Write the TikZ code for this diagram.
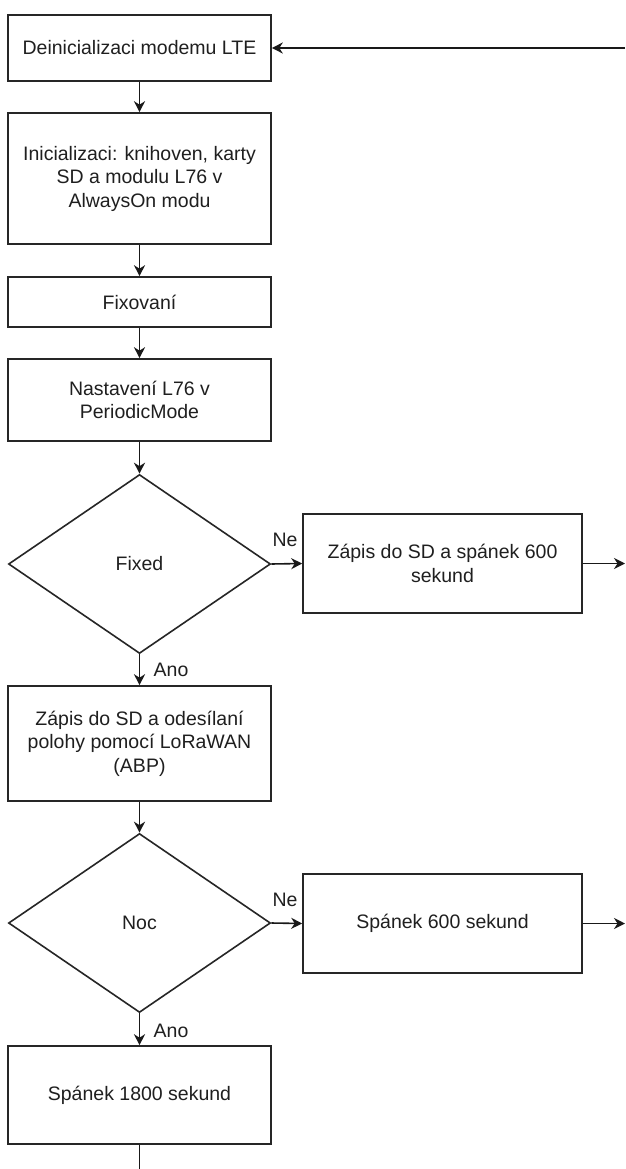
\documentclass[tikz,border=0pt]{standalone}
\usepackage{fontspec}
\setmainfont{Liberation Sans}
\usetikzlibrary{arrows.meta,shapes.geometric}

\newcommand{\flowfont}{\fontsize{19.5}{23.5}\selectfont}

\tikzset{
  stepbox/.style={draw=black!85, line width=1.6pt, rectangle, inner sep=0pt,
    minimum width=263pt, align=center, font=\flowfont, text=black!88},
  sidebox/.style={stepbox, minimum width=279pt, minimum height=99pt},
  decision/.style={draw=black!85, line width=1.6pt, diamond, inner sep=0pt,
    minimum width=262pt, minimum height=179pt, font=\flowfont, text=black!88},
  flow/.style={draw=black!90, line width=1.6pt, -{Stealth[length=11pt, width=11pt, inset=3.5pt]}},
  plain/.style={draw=black!90, line width=1.6pt},
  lbl/.style={font=\flowfont, text=black!88, inner sep=0pt}
}

\begin{document}
\begin{tikzpicture}[x=1pt, y=-1pt]
  % page frame
  \useasboundingbox[fill=white] (0,0) rectangle (625,1169);

  % main column
  \node[stepbox, minimum height=66pt]  (deinit) at (139.5,48)    {Deinicializaci modemu LTE};
  \node[stepbox, minimum height=131pt] (init)   at (139.5,178.5) {Inicializaci: knihoven, karty\\SD a modulu L76 v\\AlwaysOn modu};
  \node[stepbox, minimum height=50pt]  (fix)    at (139.5,302)   {Fixovaní};
  \node[stepbox, minimum height=82pt]  (period) at (139.5,400)   {Nastavení L76 v\\PeriodicMode};
  \node[decision] (fixed) at (139.5,564) {Fixed};
  \node[stepbox, minimum height=115pt] (send)   at (139.5,743.5) {Zápis do SD a odesílaní\\polohy pomocí LoRaWAN\\(ABP)};
  \node[decision] (noc) at (139.5,923) {Noc};
  \node[stepbox, minimum height=98pt]  (longsleep) at (139.5,1095) {Spánek 1800 sekund};

  % side branches
  \node[sidebox] (sdsleep) at (442.5,563.5) {Zápis do SD a spánek 600\\sekund};
  \node[sidebox] (shortsleep) at (442.5,923.5) {Spánek 600 sekund};

  % loop ends at the page edge
  \coordinate (loopin)  at (625,48);
  \coordinate (loopout1) at (625,563.5);
  \coordinate (loopout2) at (625,923.5);
  \coordinate (loopdown) at (139.5,1169);

  % connectors
  \draw[flow] (loopin) -- (deinit.east);
  \draw[flow] (deinit) -- (init);
  \draw[flow] (init) -- (fix);
  \draw[flow] (fix) -- (period);
  \draw[flow] (period) -- (fixed);
  \draw[flow] (fixed.east) -- (sdsleep.west);
  \draw[flow] (sdsleep.east) -- (loopout1);
  \draw[flow] (fixed) -- (send);
  \draw[flow] (send) -- (noc);
  \draw[flow] (noc.east) -- (shortsleep.west);
  \draw[flow] (shortsleep.east) -- (loopout2);
  \draw[flow] (noc) -- (longsleep);
  \draw[plain] (longsleep) -- (loopdown);

  % branch labels
  \node[lbl] (ne1)  at (285,540)  {Ne};
  \node[lbl] (ano1) at (171,670)  {Ano};
  \node[lbl] (ne2)  at (285,900)  {Ne};
  \node[lbl] (ano2) at (171,1031) {Ano};
\end{tikzpicture}
\end{document}
